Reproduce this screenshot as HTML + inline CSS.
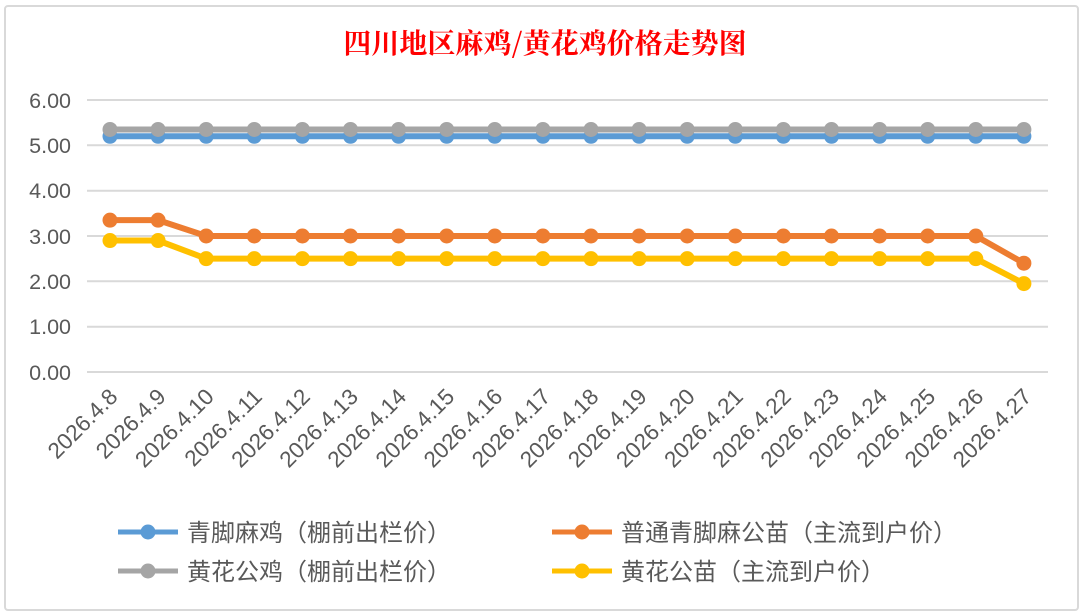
<!DOCTYPE html>
<html><head><meta charset="utf-8"><style>
body{margin:0;background:#fff}
svg{display:block;font-family:"Liberation Sans","Noto Sans CJK SC",sans-serif}
</style></head><body>
<svg width="1083" height="615" xmlns="http://www.w3.org/2000/svg">
<rect x="0" y="0" width="1083" height="615" fill="#fff"/>
<rect x="5" y="6" width="1073" height="604" fill="#fff" stroke="#d9d9d9" stroke-width="2" rx="3"/>
<text x="545" y="53" text-anchor="middle" font-size="28" font-weight="bold" fill="#ff0000" font-family="'Noto Serif CJK SC','Liberation Serif',serif">四川地区麻鸡/黄花鸡价格走势图</text>
<g stroke="#d9d9d9" stroke-width="2">
<line x1="87" x2="1048" y1="100" y2="100"/><line x1="87" x2="1048" y1="145.3" y2="145.3"/>
<line x1="87" x2="1048" y1="190.7" y2="190.7"/><line x1="87" x2="1048" y1="236" y2="236"/>
<line x1="87" x2="1048" y1="281.3" y2="281.3"/><line x1="87" x2="1048" y1="326.7" y2="326.7"/>
<line x1="87" x2="1048" y1="372" y2="372"/>
</g>
<g font-size="21.5" fill="#595959" text-anchor="end">
<text x="71" y="108">6.00</text><text x="71" y="153">5.00</text><text x="71" y="198">4.00</text>
<text x="71" y="244">3.00</text><text x="71" y="289">2.00</text><text x="71" y="334">1.00</text><text x="71" y="380">0.00</text>
</g>
<g id="c"></g>
<g font-size="22.5" fill="#595959" text-anchor="end" id="xl"></g>
<g font-size="24" fill="#595959">
<line x1="118" x2="178" y1="532" y2="532" stroke="#5b9bd5" stroke-width="5"/><circle cx="148" cy="532" r="7.5" fill="#5b9bd5"/>
<text x="187" y="541">青脚麻鸡（棚前出栏价）</text>
<line x1="552" x2="612" y1="532" y2="532" stroke="#ed7d31" stroke-width="5"/><circle cx="582" cy="532" r="7.5" fill="#ed7d31"/>
<text x="621" y="541">普通青脚麻公苗（主流到户价）</text>
<line x1="118" x2="178" y1="571" y2="571" stroke="#a5a5a5" stroke-width="5"/><circle cx="148" cy="571" r="7.5" fill="#a5a5a5"/>
<text x="187" y="580">黄花公鸡（棚前出栏价）</text>
<line x1="552" x2="612" y1="571" y2="571" stroke="#ffc000" stroke-width="5"/><circle cx="582" cy="571" r="7.5" fill="#ffc000"/>
<text x="621" y="580">黄花公苗（主流到户价）</text>
</g>
<script>
var ns="http://www.w3.org/2000/svg",c=document.getElementById('c'),xl=document.getElementById('xl');
function X(i){return 110+i*48.1}function Y(v){return 372-v*45.333}
var s=[["#5b9bd5",Array(20).fill(5.2)],["#a5a5a5",Array(20).fill(5.35)],
["#ed7d31",[3.35,3.35].concat(Array(17).fill(3.0),[2.4])],
["#ffc000",[2.9,2.9].concat(Array(17).fill(2.5),[1.95])]];
s.forEach(function(d){var p=d[1].map(function(v,i){return X(i)+","+Y(v)}).join(" ");
var l=document.createElementNS(ns,"polyline");l.setAttribute("points",p);l.setAttribute("fill","none");l.setAttribute("stroke",d[0]);l.setAttribute("stroke-width","6");c.appendChild(l);
d[1].forEach(function(v,i){var e=document.createElementNS(ns,"circle");e.setAttribute("cx",X(i));e.setAttribute("cy",Y(v));e.setAttribute("r","7.5");e.setAttribute("fill",d[0]);c.appendChild(e);});});
for(var i=0;i<20;i++){var t=document.createElementNS(ns,"text");var x=X(i)+9,y=398;t.setAttribute("x",x);t.setAttribute("y",y);t.setAttribute("transform","rotate(-45 "+x+" "+y+")");t.textContent="2026.4."+(8+i);xl.appendChild(t);}
</script>
</svg>
</body></html>
